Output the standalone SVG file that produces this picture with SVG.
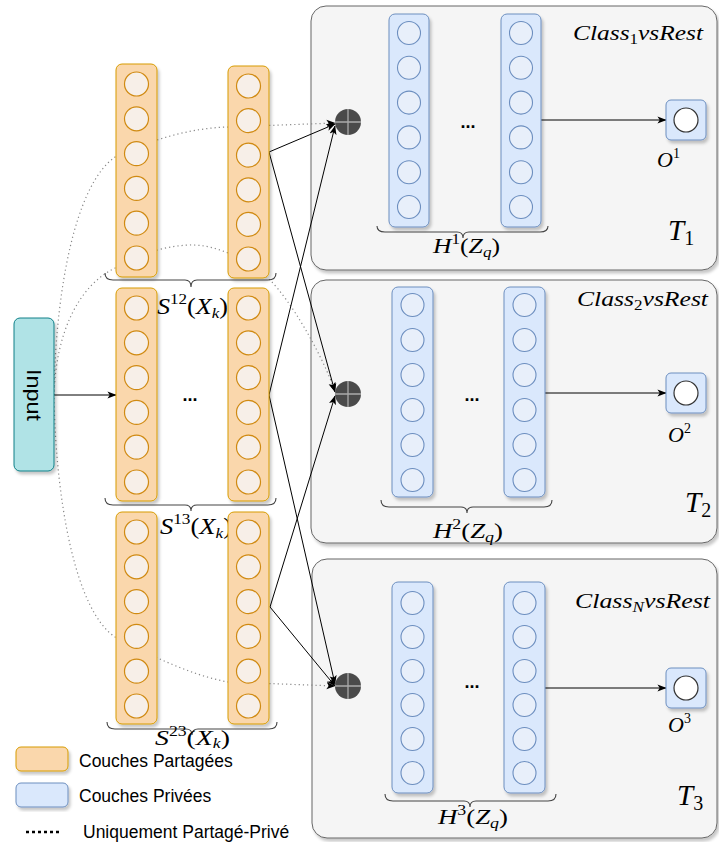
<svg xmlns="http://www.w3.org/2000/svg" width="719" height="842" viewBox="0 0 719 842">
<defs>
  <filter id="sh" x="-20%" y="-20%" width="140%" height="140%">
    <feDropShadow dx="2" dy="3" stdDeviation="1.5" flood-color="#000" flood-opacity="0.22"/>
  </filter>
  <marker id="arr" viewBox="0 0 10 10" refX="9.5" refY="5" markerWidth="9" markerHeight="9" markerUnits="userSpaceOnUse" orient="auto">
    <path d="M0,1 L10,5 L0,9 L2.5,5 z" fill="#000"/>
  </marker>
</defs>
<style>
  .panel{fill:#f5f5f5;stroke:#666;stroke-width:1}
  .scol{fill:#fad7ac;stroke:#d79b00;stroke-width:1}
  .scir{fill:#f7efe8;stroke:#d08a12;stroke-width:1.2}
  .pcol{fill:#dae8fc;stroke:#6c8ebf;stroke-width:1}
  .pcir{fill:#e8effa;stroke:#6c8ebf;stroke-width:1.1}
  .comb{fill:#4a4a4a}
  .cross{stroke:#aaa;stroke-width:1.3}
  .out{fill:#dae8fc;stroke:#6c8ebf;stroke-width:1}
  .ocir{fill:#fff;stroke:#333;stroke-width:1.2}
  .brace{fill:none;stroke:#444;stroke-width:1.1}
  .sol{fill:none;stroke:#000;stroke-width:1}
  .dot{fill:none;stroke:#888;stroke-width:1.2;stroke-dasharray:1.2 3}
  .m{font-family:"Liberation Serif","DejaVu Serif",serif;fill:#000}
  .i{font-style:italic}
  .s{font-family:"Liberation Sans",Arial,sans-serif;fill:#000}
</style>

<!-- Panels -->
<g id="panel-T1"><rect class="panel" x="311" y="6" width="406" height="264" rx="15" filter="url(#sh)"/></g>
<g id="panel-T2"><rect class="panel" x="311" y="280" width="406" height="263" rx="15" filter="url(#sh)"/></g>
<g id="panel-T3"><rect class="panel" x="312" y="559" width="405" height="279" rx="15" filter="url(#sh)"/></g>

<!-- Connectors -->
<g id="connectors">
  <path class="dot" d="M54,392 C56,290 75,185 115,157 C150,140 190,128 228,127 L335,123" marker-end="url(#arr)"/>
  <path class="dot" d="M54,395 C56,330 80,285 115,268 C135,257 160,246 190,245 C215,244 250,260 270,280 C290,300 320,350 335,391" marker-end="url(#arr)"/>
  <path class="dot" d="M54,398 C56,500 75,610 115,637 C150,655 190,675 228,682 L335,686" marker-end="url(#arr)"/>
  <path class="sol" d="M54,395 L116,395" marker-end="url(#arr)"/>
  <path class="sol" d="M269,152 L335,124" marker-end="url(#arr)"/>
  <path class="sol" d="M269,152 L335,392" marker-end="url(#arr)"/>
  <path class="sol" d="M269,395 L335,126" marker-end="url(#arr)"/>
  <path class="sol" d="M269,395 L335,684" marker-end="url(#arr)"/>
  <path class="sol" d="M270,607 L335,396" marker-end="url(#arr)"/>
  <path class="sol" d="M270,607 L335,686" marker-end="url(#arr)"/>
  <path class="sol" d="M541,120 L666,120" marker-end="url(#arr)"/>
  <path class="sol" d="M545,393 L666,393" marker-end="url(#arr)"/>
  <path class="sol" d="M545,688 L666,688" marker-end="url(#arr)"/>
</g>

<!-- Input -->
<g id="input">
  <rect x="14" y="318" width="40" height="153" rx="6" fill="#b0e3e6" stroke="#0e8088" stroke-width="1" filter="url(#sh)"/>
  <text class="s" x="34" y="395" font-size="21" text-anchor="middle" dominant-baseline="central" textLength="52" lengthAdjust="spacingAndGlyphs" transform="rotate(90 34 395)">Input</text>
</g>

<!-- Shared layers: top group -->
<g id="shared-12-a">
  <rect class="scol" x="116" y="64" width="41" height="213" rx="6" filter="url(#sh)"/>
  <circle class="scir" cx="136.5" cy="84" r="12"/><circle class="scir" cx="136.5" cy="118.8" r="12"/><circle class="scir" cx="136.5" cy="153.6" r="12"/><circle class="scir" cx="136.5" cy="188.4" r="12"/><circle class="scir" cx="136.5" cy="223.2" r="12"/><circle class="scir" cx="136.5" cy="258" r="12"/>
</g>
<g id="shared-12-b">
  <rect class="scol" x="228" y="66" width="41" height="212" rx="6" filter="url(#sh)"/>
  <circle class="scir" cx="248.5" cy="86" r="12"/><circle class="scir" cx="248.5" cy="120.6" r="12"/><circle class="scir" cx="248.5" cy="155.2" r="12"/><circle class="scir" cx="248.5" cy="189.8" r="12"/><circle class="scir" cx="248.5" cy="224.4" r="12"/><circle class="scir" cx="248.5" cy="259" r="12"/>
</g>
<g id="brace-S12">
  <path class="brace" d="M105,273 Q105,280 113,280 L185,280 Q191,280 191,287 Q191,280 197,280 L268,280 Q276,280 276,273"/>
  <text class="m" x="157" y="314" font-size="23" textLength="71" lengthAdjust="spacingAndGlyphs"><tspan class="i">S</tspan><tspan font-size="15" dy="-10">12</tspan><tspan dy="10">(</tspan><tspan class="i">X</tspan><tspan class="i" font-size="15" dy="4">k</tspan><tspan dy="-4">)</tspan></text>
</g>

<!-- Shared layers: middle group -->
<g id="shared-13-a">
  <rect class="scol" x="116" y="288" width="41" height="213" rx="6" filter="url(#sh)"/>
  <circle class="scir" cx="136.5" cy="308" r="12"/><circle class="scir" cx="136.5" cy="342.8" r="12"/><circle class="scir" cx="136.5" cy="377.6" r="12"/><circle class="scir" cx="136.5" cy="412.4" r="12"/><circle class="scir" cx="136.5" cy="447.2" r="12"/><circle class="scir" cx="136.5" cy="482" r="12"/>
</g>
<g id="shared-13-b">
  <rect class="scol" x="228" y="288" width="41" height="213" rx="6" filter="url(#sh)"/>
  <circle class="scir" cx="248.5" cy="308" r="12"/><circle class="scir" cx="248.5" cy="342.8" r="12"/><circle class="scir" cx="248.5" cy="377.6" r="12"/><circle class="scir" cx="248.5" cy="412.4" r="12"/><circle class="scir" cx="248.5" cy="447.2" r="12"/><circle class="scir" cx="248.5" cy="482" r="12"/>
</g>
<g id="dots-shared"><text class="s" x="190" y="401" font-size="18" font-weight="bold" text-anchor="middle">...</text></g>
<g id="brace-S13">
  <path class="brace" d="M105,498 Q105,505 113,505 L185,505 Q191,505 191,511 Q191,505 197,505 L268,505 Q276,505 276,498"/>
  <text class="m" x="160" y="534" font-size="23" textLength="72" lengthAdjust="spacingAndGlyphs"><tspan class="i">S</tspan><tspan font-size="15" dy="-10">13</tspan><tspan dy="10">(</tspan><tspan class="i">X</tspan><tspan class="i" font-size="15" dy="4">k</tspan><tspan dy="-4">)</tspan></text>
</g>

<!-- Shared layers: bottom group -->
<g id="shared-23-a">
  <rect class="scol" x="116" y="512" width="41" height="212" rx="6" filter="url(#sh)"/>
  <circle class="scir" cx="136.5" cy="532" r="12"/><circle class="scir" cx="136.5" cy="566.8" r="12"/><circle class="scir" cx="136.5" cy="601.6" r="12"/><circle class="scir" cx="136.5" cy="636.4" r="12"/><circle class="scir" cx="136.5" cy="671.2" r="12"/><circle class="scir" cx="136.5" cy="706" r="12"/>
</g>
<g id="shared-23-b">
  <rect class="scol" x="228" y="512" width="41" height="212" rx="6" filter="url(#sh)"/>
  <circle class="scir" cx="248.5" cy="532" r="12"/><circle class="scir" cx="248.5" cy="566.8" r="12"/><circle class="scir" cx="248.5" cy="601.6" r="12"/><circle class="scir" cx="248.5" cy="636.4" r="12"/><circle class="scir" cx="248.5" cy="671.2" r="12"/><circle class="scir" cx="248.5" cy="706" r="12"/>
</g>
<g id="brace-S23">
  <path class="brace" d="M107,722 Q107,729 115,729 L186,729 Q192,729 192,735 Q192,729 198,729 L269,729 Q277,729 277,722"/>
  <text class="m" x="155" y="745" font-size="22" textLength="75" lengthAdjust="spacingAndGlyphs"><tspan class="i">S</tspan><tspan font-size="14" dy="-9">23</tspan><tspan dy="9">(</tspan><tspan class="i">X</tspan><tspan class="i" font-size="14" dy="3">k</tspan><tspan dy="-3">)</tspan></text>
</g>

<!-- Combine nodes -->
<g id="combine-1"><circle class="comb" cx="348" cy="122" r="13"/><path class="cross" d="M335,122 H361 M348,109 V135"/></g>
<g id="combine-2"><circle class="comb" cx="348" cy="394" r="13"/><path class="cross" d="M335,394 H361 M348,381 V407"/></g>
<g id="combine-3"><circle class="comb" cx="348" cy="686" r="13"/><path class="cross" d="M335,686 H361 M348,673 V699"/></g>

<!-- Private layers T1 -->
<g id="private-1-a">
  <rect class="pcol" x="389" y="14" width="40" height="213" rx="6" filter="url(#sh)"/>
  <circle class="pcir" cx="409" cy="33" r="11.5"/><circle class="pcir" cx="409" cy="67.8" r="11.5"/><circle class="pcir" cx="409" cy="102.6" r="11.5"/><circle class="pcir" cx="409" cy="137.4" r="11.5"/><circle class="pcir" cx="409" cy="172.2" r="11.5"/><circle class="pcir" cx="409" cy="207" r="11.5"/>
</g>
<g id="private-1-b">
  <rect class="pcol" x="501" y="14" width="40" height="213" rx="6" filter="url(#sh)"/>
  <circle class="pcir" cx="521" cy="33" r="11.5"/><circle class="pcir" cx="521" cy="67.8" r="11.5"/><circle class="pcir" cx="521" cy="102.6" r="11.5"/><circle class="pcir" cx="521" cy="137.4" r="11.5"/><circle class="pcir" cx="521" cy="172.2" r="11.5"/><circle class="pcir" cx="521" cy="207" r="11.5"/>
</g>
<g id="labels-T1">
  <text class="s" x="468" y="128" font-size="18" font-weight="bold" text-anchor="middle">...</text>
  <path class="brace" d="M377,226 Q377,232 385,232 L457,232 Q463,232 463,238 Q463,232 469,232 L540,232 Q548,232 548,226"/>
  <text class="m" x="433" y="253" font-size="21" textLength="67" lengthAdjust="spacingAndGlyphs"><tspan class="i">H</tspan><tspan font-size="14" dy="-9">1</tspan><tspan dy="9">(</tspan><tspan class="i">Z</tspan><tspan class="i" font-size="14" dy="4">q</tspan><tspan dy="-4">)</tspan></text>
  <text class="m" x="573" y="40" font-size="21" textLength="130" lengthAdjust="spacingAndGlyphs"><tspan class="i">Class</tspan><tspan font-size="14" dy="4">1</tspan><tspan class="i" dy="-4">vsRest</tspan></text>
  <text class="m" x="668" y="240" font-size="29"><tspan class="i">T</tspan><tspan font-size="20" dy="5">1</tspan></text>
</g>
<g id="output-1">
  <rect class="out" x="666" y="100" width="40" height="40" rx="5" filter="url(#sh)"/>
  <circle class="ocir" cx="686" cy="120" r="12"/>
  <text class="m" x="657" y="167" font-size="22"><tspan class="i">O</tspan><tspan font-size="14" dy="-9">1</tspan></text>
</g>

<!-- Private layers T2 -->
<g id="private-2-a">
  <rect class="pcol" x="392" y="287" width="41" height="210" rx="6" filter="url(#sh)"/>
  <circle class="pcir" cx="412.5" cy="305" r="11.5"/><circle class="pcir" cx="412.5" cy="340" r="11.5"/><circle class="pcir" cx="412.5" cy="375" r="11.5"/><circle class="pcir" cx="412.5" cy="410" r="11.5"/><circle class="pcir" cx="412.5" cy="445" r="11.5"/><circle class="pcir" cx="412.5" cy="480" r="11.5"/>
</g>
<g id="private-2-b">
  <rect class="pcol" x="504" y="287" width="41" height="210" rx="6" filter="url(#sh)"/>
  <circle class="pcir" cx="524.5" cy="305" r="11.5"/><circle class="pcir" cx="524.5" cy="340" r="11.5"/><circle class="pcir" cx="524.5" cy="375" r="11.5"/><circle class="pcir" cx="524.5" cy="410" r="11.5"/><circle class="pcir" cx="524.5" cy="445" r="11.5"/><circle class="pcir" cx="524.5" cy="480" r="11.5"/>
</g>
<g id="labels-T2">
  <text class="s" x="472" y="401" font-size="18" font-weight="bold" text-anchor="middle">...</text>
  <path class="brace" d="M381,500 Q381,507 389,507 L461,507 Q467,507 467,513 Q467,507 473,507 L544,507 Q552,507 552,500"/>
  <text class="m" x="433" y="538" font-size="21" textLength="70" lengthAdjust="spacingAndGlyphs"><tspan class="i">H</tspan><tspan font-size="14" dy="-9">2</tspan><tspan dy="9">(</tspan><tspan class="i">Z</tspan><tspan class="i" font-size="14" dy="4">q</tspan><tspan dy="-4">)</tspan></text>
  <text class="m" x="577" y="306" font-size="21" textLength="131" lengthAdjust="spacingAndGlyphs"><tspan class="i">Class</tspan><tspan font-size="14" dy="4">2</tspan><tspan class="i" dy="-4">vsRest</tspan></text>
  <text class="m" x="685" y="512" font-size="29"><tspan class="i">T</tspan><tspan font-size="20" dy="5">2</tspan></text>
</g>
<g id="output-2">
  <rect class="out" x="666" y="373" width="40" height="40" rx="5" filter="url(#sh)"/>
  <circle class="ocir" cx="686" cy="393" r="12"/>
  <text class="m" x="668" y="442" font-size="22"><tspan class="i">O</tspan><tspan font-size="14" dy="-9">2</tspan></text>
</g>

<!-- Private layers T3 -->
<g id="private-3-a">
  <rect class="pcol" x="392" y="582" width="41" height="211" rx="6" filter="url(#sh)"/>
  <circle class="pcir" cx="412.5" cy="603" r="11.5"/><circle class="pcir" cx="412.5" cy="637" r="11.5"/><circle class="pcir" cx="412.5" cy="671" r="11.5"/><circle class="pcir" cx="412.5" cy="705" r="11.5"/><circle class="pcir" cx="412.5" cy="739" r="11.5"/><circle class="pcir" cx="412.5" cy="773" r="11.5"/>
</g>
<g id="private-3-b">
  <rect class="pcol" x="504" y="582" width="41" height="211" rx="6" filter="url(#sh)"/>
  <circle class="pcir" cx="524.5" cy="603" r="11.5"/><circle class="pcir" cx="524.5" cy="637" r="11.5"/><circle class="pcir" cx="524.5" cy="671" r="11.5"/><circle class="pcir" cx="524.5" cy="705" r="11.5"/><circle class="pcir" cx="524.5" cy="739" r="11.5"/><circle class="pcir" cx="524.5" cy="773" r="11.5"/>
</g>
<g id="labels-T3">
  <text class="s" x="472" y="688" font-size="18" font-weight="bold" text-anchor="middle">...</text>
  <path class="brace" d="M385,794 Q385,801 393,801 L464,801 Q470,801 470,807 Q470,801 476,801 L548,801 Q556,801 556,794"/>
  <text class="m" x="438" y="824" font-size="21" textLength="70" lengthAdjust="spacingAndGlyphs"><tspan class="i">H</tspan><tspan font-size="14" dy="-9">3</tspan><tspan dy="9">(</tspan><tspan class="i">Z</tspan><tspan class="i" font-size="14" dy="4">q</tspan><tspan dy="-4">)</tspan></text>
  <text class="m" x="575" y="608" font-size="21" textLength="135" lengthAdjust="spacingAndGlyphs"><tspan class="i">Class</tspan><tspan class="i" font-size="14" dy="4">N</tspan><tspan class="i" dy="-4">vsRest</tspan></text>
  <text class="m" x="677" y="805" font-size="29"><tspan class="i">T</tspan><tspan font-size="20" dy="5">3</tspan></text>
</g>
<g id="output-3">
  <rect class="out" x="666" y="668" width="40" height="40" rx="5" filter="url(#sh)"/>
  <circle class="ocir" cx="686" cy="688" r="12"/>
  <text class="m" x="668" y="732" font-size="22"><tspan class="i">O</tspan><tspan font-size="14" dy="-9">3</tspan></text>
</g>

<!-- Legend -->
<g id="legend">
  <rect x="16" y="747" width="52" height="24" rx="5" fill="#fad7ac" stroke="#d79b00" stroke-width="1" filter="url(#sh)"/>
  <text class="s" x="79" y="767" font-size="17.5">Couches Partagées</text>
  <rect x="16" y="783" width="52" height="24" rx="5" fill="#dae8fc" stroke="#6c8ebf" stroke-width="1" filter="url(#sh)"/>
  <text class="s" x="79" y="802" font-size="17.5">Couches Privées</text>
  <path d="M26,832 L62,832" stroke="#000" stroke-width="2.5" stroke-dasharray="3 3" fill="none"/>
  <text class="s" x="83" y="838" font-size="17.5">Uniquement Partagé-Privé</text>
</g>
</svg>
